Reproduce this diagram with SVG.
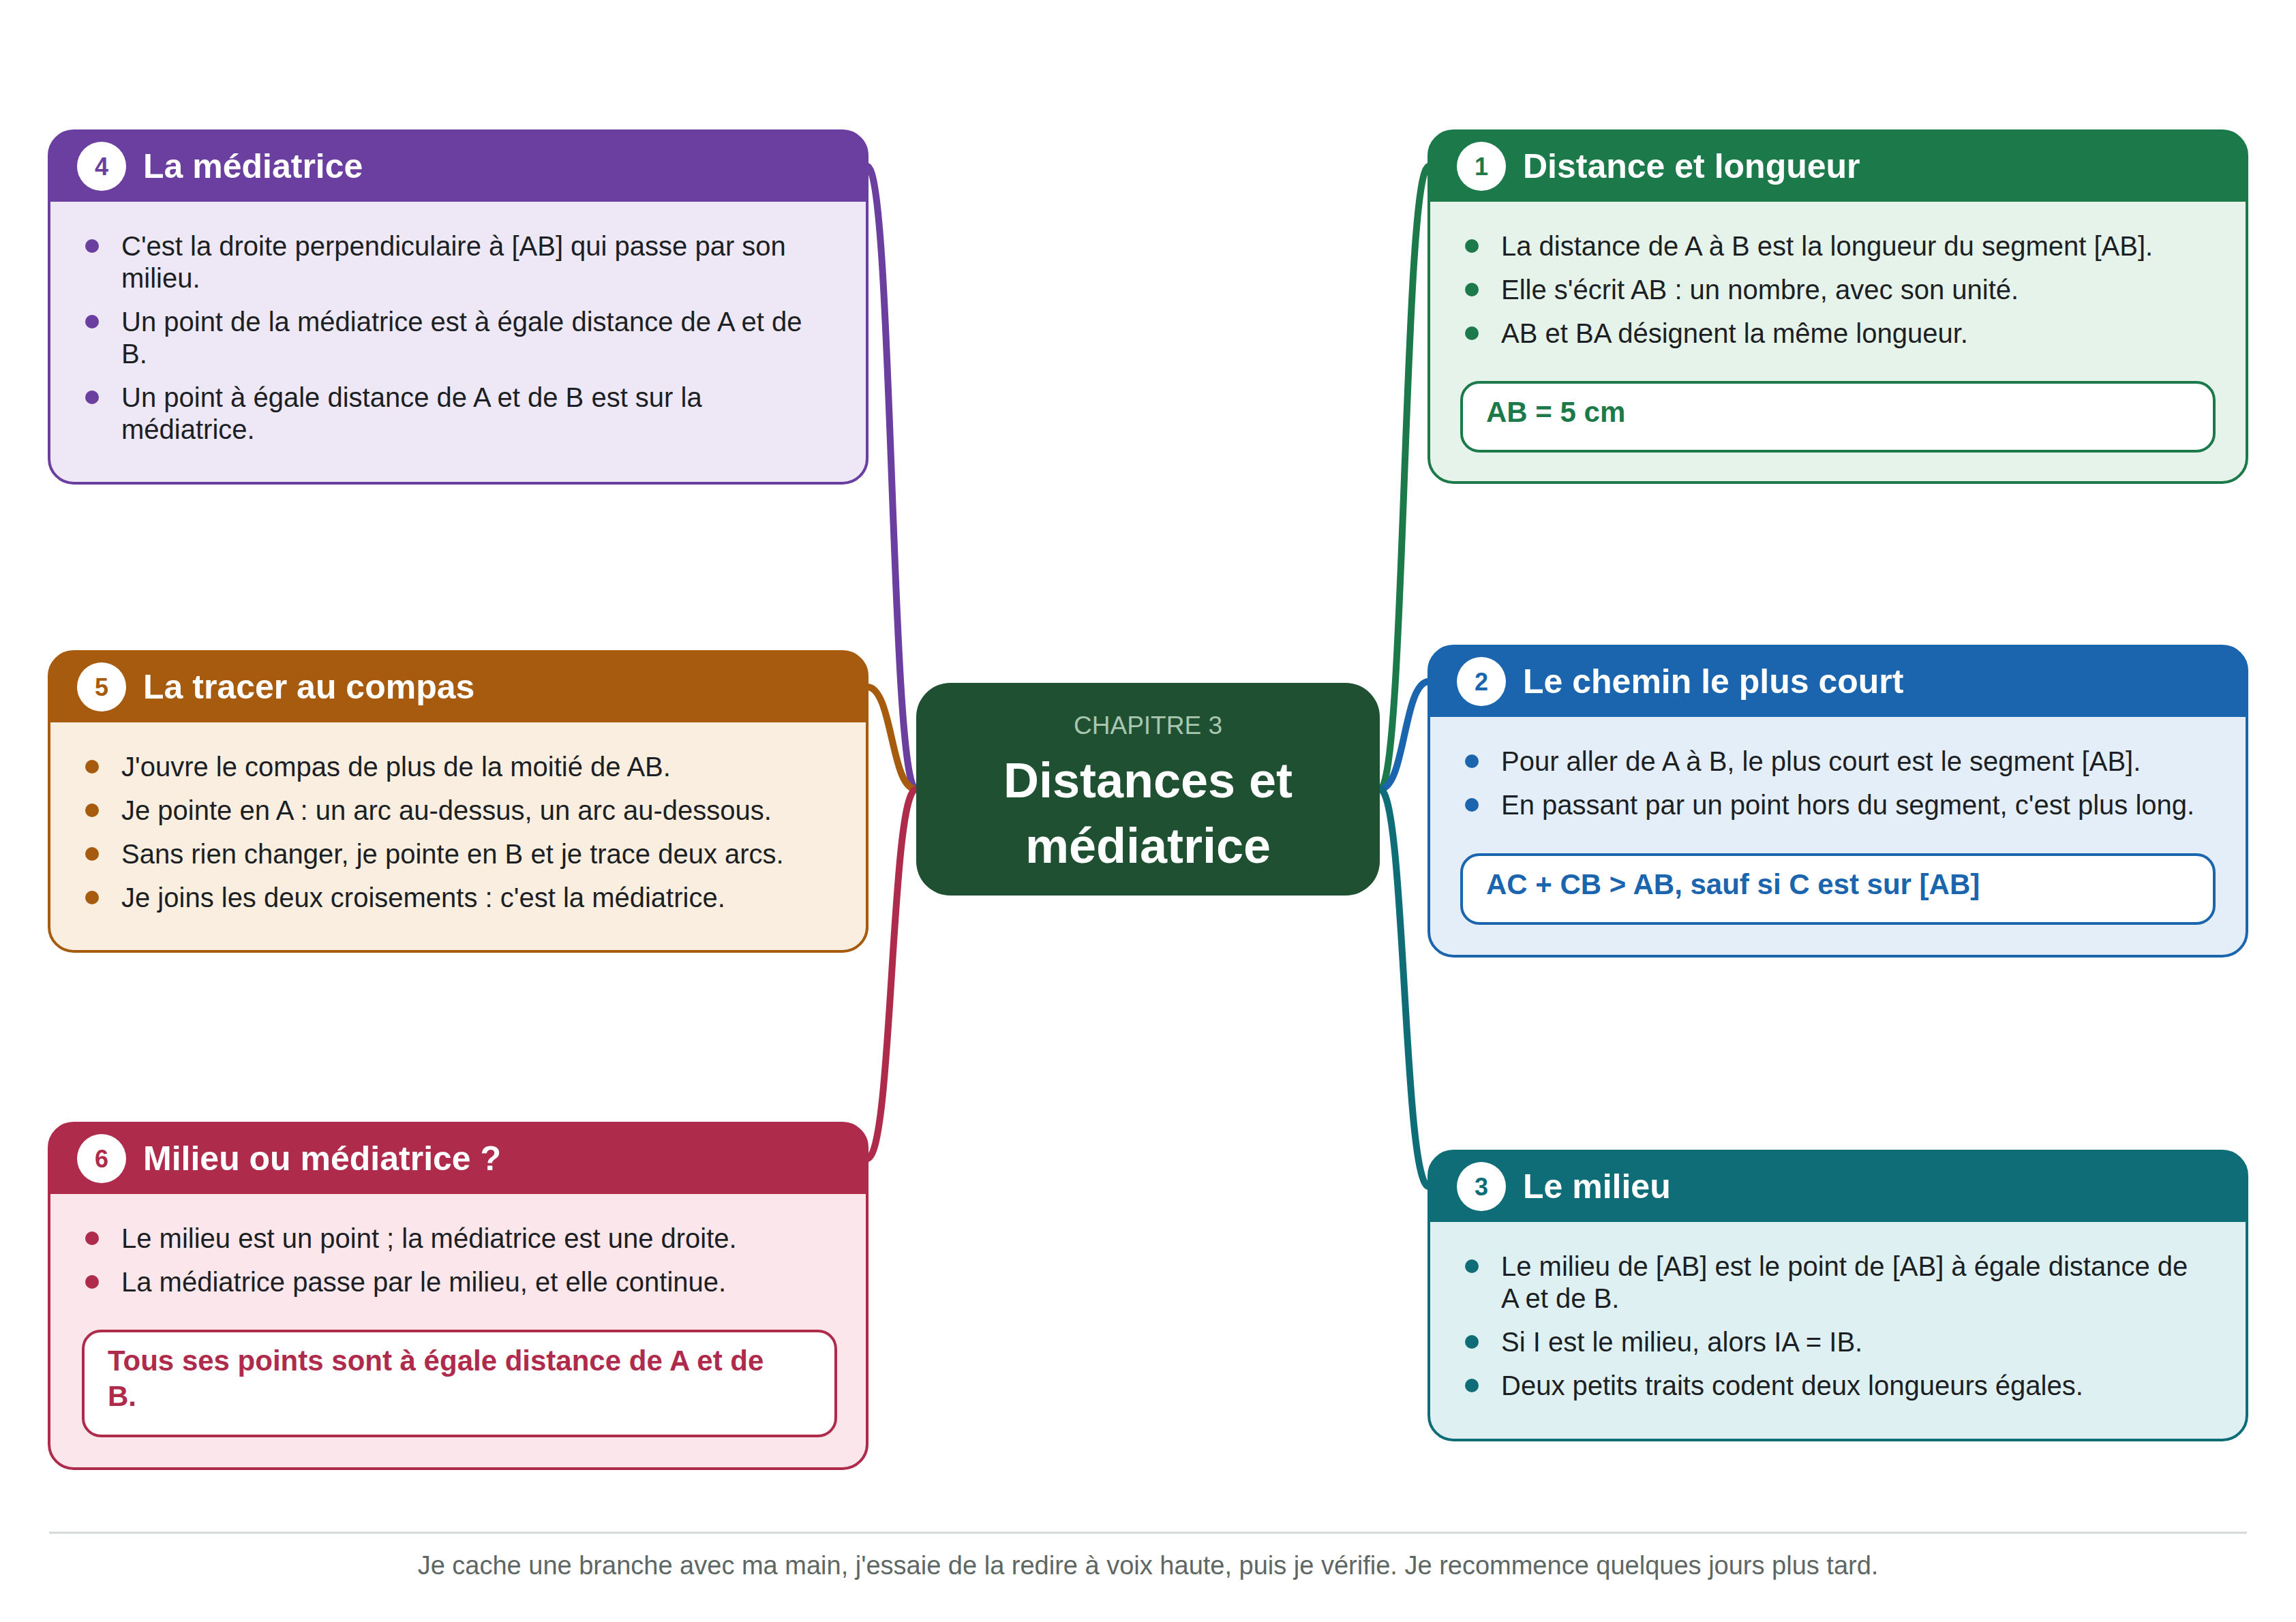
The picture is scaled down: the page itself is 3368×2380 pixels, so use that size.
<svg xmlns="http://www.w3.org/2000/svg" width="3368" height="2380" viewBox="0 0 3368 2380">
<style>
text{font-family:"Liberation Sans",Arial,Helvetica,sans-serif}
.t{font-size:50px;font-weight:700;fill:#ffffff}
.n{font-size:36px;font-weight:700;text-anchor:middle}
.b{font-size:40px;fill:#1c1f23}
.c{font-size:42px;font-weight:700}
.box{stroke-width:4}
.call{fill:#ffffff;stroke-width:4}
.conn{fill:none;stroke-width:10;stroke-linecap:round}
.badge{fill:#ffffff}
</style>
<rect width="3368" height="2380" fill="#ffffff"/>
<g id="connectors">
<path class="conn" stroke="#6a3f9f" d="M1272,244 C1310,244 1306,1158 1344,1158"/>
<path class="conn" stroke="#a65b0f" d="M1272,1008 C1310,1008 1306,1158 1344,1158"/>
<path class="conn" stroke="#af2b4c" d="M1272,1700 C1310,1700 1306,1158 1344,1158"/>
<path class="conn" stroke="#1c7a4a" d="M2096,244 C2058,244 2062,1158 2024,1158"/>
<path class="conn" stroke="#1a65ad" d="M2096,1000 C2058,1000 2062,1158 2024,1158"/>
<path class="conn" stroke="#0e6d77" d="M2096,1741 C2058,1741 2062,1158 2024,1158"/>
</g>
<g id="center">
<rect x="1344" y="1002" width="680" height="312" rx="50" fill="#1f5032"/>
<text x="1684" y="1077" text-anchor="middle" font-size="37" fill="#a8c6b0">CHAPITRE 3</text>
<text x="1684" y="1170" text-anchor="middle" font-size="72" font-weight="700" fill="#ffffff">Distances et</text>
<text x="1684" y="1266" text-anchor="middle" font-size="72" font-weight="700" fill="#ffffff">médiatrice</text>
</g>
<g id="node-1">
<rect class="box" x="2096" y="192" width="1200" height="516" rx="36" fill="#e6f3ea" stroke="#1c7a4a"/>
<path d="M2096,296 V228 A36,36 0 0 1 2132,192 H3260 A36,36 0 0 1 3296,228 V296 Z" fill="#1c7a4a"/>
<circle class="badge" cx="2173" cy="244" r="36"/>
<text class="n" x="2173" y="257" fill="#1c7a4a">1</text>
<text class="t" x="2234" y="261">Distance et longueur</text>
<circle cx="2159" cy="361" r="10" fill="#1c7a4a"/>
<text class="b" x="2202" y="375">La distance de A à B est la longueur du segment [AB].</text>
<circle cx="2159" cy="425" r="10" fill="#1c7a4a"/>
<text class="b" x="2202" y="439">Elle s'écrit AB : un nombre, avec son unité.</text>
<circle cx="2159" cy="489" r="10" fill="#1c7a4a"/>
<text class="b" x="2202" y="503">AB et BA désignent la même longueur.</text>
<rect class="call" x="2144" y="561" width="1104" height="101" rx="26" stroke="#1c7a4a"/>
<text class="c" x="2180" y="619" fill="#1c7a4a">AB = 5 cm</text>
</g>
<g id="node-2">
<rect class="box" x="2096" y="948" width="1200" height="455" rx="36" fill="#e4eef8" stroke="#1a65ad"/>
<path d="M2096,1052 V984 A36,36 0 0 1 2132,948 H3260 A36,36 0 0 1 3296,984 V1052 Z" fill="#1a65ad"/>
<circle class="badge" cx="2173" cy="1000" r="36"/>
<text class="n" x="2173" y="1013" fill="#1a65ad">2</text>
<text class="t" x="2234" y="1017">Le chemin le plus court</text>
<circle cx="2159" cy="1117" r="10" fill="#1a65ad"/>
<text class="b" x="2202" y="1131">Pour aller de A à B, le plus court est le segment [AB].</text>
<circle cx="2159" cy="1181" r="10" fill="#1a65ad"/>
<text class="b" x="2202" y="1195">En passant par un point hors du segment, c'est plus long.</text>
<rect class="call" x="2144" y="1254" width="1104" height="101" rx="26" stroke="#1a65ad"/>
<text class="c" x="2180" y="1312" fill="#1a65ad">AC + CB &gt; AB, sauf si C est sur [AB]</text>
</g>
<g id="node-3">
<rect class="box" x="2096" y="1689" width="1200" height="424" rx="36" fill="#dff0f2" stroke="#0e6d77"/>
<path d="M2096,1793 V1725 A36,36 0 0 1 2132,1689 H3260 A36,36 0 0 1 3296,1725 V1793 Z" fill="#0e6d77"/>
<circle class="badge" cx="2173" cy="1741" r="36"/>
<text class="n" x="2173" y="1754" fill="#0e6d77">3</text>
<text class="t" x="2234" y="1758">Le milieu</text>
<circle cx="2159" cy="1858" r="10" fill="#0e6d77"/>
<text class="b" x="2202" y="1872">Le milieu de [AB] est le point de [AB] à égale distance de</text>
<text class="b" x="2202" y="1919">A et de B.</text>
<circle cx="2159" cy="1969" r="10" fill="#0e6d77"/>
<text class="b" x="2202" y="1983">Si I est le milieu, alors IA = IB.</text>
<circle cx="2159" cy="2033" r="10" fill="#0e6d77"/>
<text class="b" x="2202" y="2047">Deux petits traits codent deux longueurs égales.</text>
</g>
<g id="node-4">
<rect class="box" x="72" y="192" width="1200" height="517" rx="36" fill="#ede7f6" stroke="#6a3f9f"/>
<path d="M72,296 V228 A36,36 0 0 1 108,192 H1236 A36,36 0 0 1 1272,228 V296 Z" fill="#6a3f9f"/>
<circle class="badge" cx="149" cy="244" r="36"/>
<text class="n" x="149" y="257" fill="#6a3f9f">4</text>
<text class="t" x="210" y="261">La médiatrice</text>
<circle cx="135" cy="361" r="10" fill="#6a3f9f"/>
<text class="b" x="178" y="375">C'est la droite perpendiculaire à [AB] qui passe par son</text>
<text class="b" x="178" y="422">milieu.</text>
<circle cx="135" cy="472" r="10" fill="#6a3f9f"/>
<text class="b" x="178" y="486">Un point de la médiatrice est à égale distance de A et de</text>
<text class="b" x="178" y="533">B.</text>
<circle cx="135" cy="583" r="10" fill="#6a3f9f"/>
<text class="b" x="178" y="597">Un point à égale distance de A et de B est sur la</text>
<text class="b" x="178" y="644">médiatrice.</text>
</g>
<g id="node-5">
<rect class="box" x="72" y="956" width="1200" height="440" rx="36" fill="#faeee0" stroke="#a65b0f"/>
<path d="M72,1060 V992 A36,36 0 0 1 108,956 H1236 A36,36 0 0 1 1272,992 V1060 Z" fill="#a65b0f"/>
<circle class="badge" cx="149" cy="1008" r="36"/>
<text class="n" x="149" y="1021" fill="#a65b0f">5</text>
<text class="t" x="210" y="1025">La tracer au compas</text>
<circle cx="135" cy="1125" r="10" fill="#a65b0f"/>
<text class="b" x="178" y="1139">J'ouvre le compas de plus de la moitié de AB.</text>
<circle cx="135" cy="1189" r="10" fill="#a65b0f"/>
<text class="b" x="178" y="1203">Je pointe en A : un arc au-dessus, un arc au-dessous.</text>
<circle cx="135" cy="1253" r="10" fill="#a65b0f"/>
<text class="b" x="178" y="1267">Sans rien changer, je pointe en B et je trace deux arcs.</text>
<circle cx="135" cy="1317" r="10" fill="#a65b0f"/>
<text class="b" x="178" y="1331">Je joins les deux croisements : c'est la médiatrice.</text>
</g>
<g id="node-6">
<rect class="box" x="72" y="1648" width="1200" height="507" rx="36" fill="#fae6eb" stroke="#af2b4c"/>
<path d="M72,1752 V1684 A36,36 0 0 1 108,1648 H1236 A36,36 0 0 1 1272,1684 V1752 Z" fill="#af2b4c"/>
<circle class="badge" cx="149" cy="1700" r="36"/>
<text class="n" x="149" y="1713" fill="#af2b4c">6</text>
<text class="t" x="210" y="1717">Milieu ou médiatrice ?</text>
<circle cx="135" cy="1817" r="10" fill="#af2b4c"/>
<text class="b" x="178" y="1831">Le milieu est un point ; la médiatrice est une droite.</text>
<circle cx="135" cy="1881" r="10" fill="#af2b4c"/>
<text class="b" x="178" y="1895">La médiatrice passe par le milieu, et elle continue.</text>
<rect class="call" x="122" y="1953" width="1104" height="154" rx="26" stroke="#af2b4c"/>
<text class="c" x="158" y="2011" fill="#af2b4c">Tous ses points sont à égale distance de A et de</text>
<text class="c" x="158" y="2063" fill="#af2b4c">B.</text>
</g>
<g id="footer">
<line x1="72" y1="2249" x2="3296" y2="2249" stroke="#d5d9d6" stroke-width="3"/>
<text x="1684" y="2310" text-anchor="middle" font-size="38" fill="#5f6764">Je cache une branche avec ma main, j'essaie de la redire à voix haute, puis je vérifie. Je recommence quelques jours plus tard.</text>
</g>
</svg>
